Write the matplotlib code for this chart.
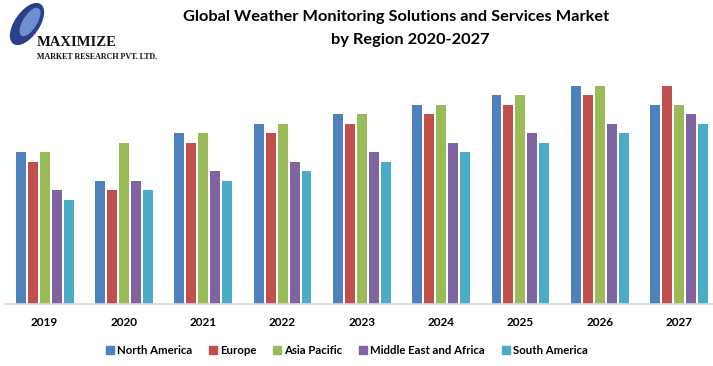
import matplotlib.pyplot as plt
import matplotlib.patches as mpatches
from matplotlib.lines import Line2D
import numpy as np

years = ["2019", "2020", "2021", "2022", "2023", "2024", "2025", "2026", "2027"]
regions = ["North America", "Europe", "Asia Pacific", "Middle East and Africa", "South America"]
north_america = [16, 13, 18, 19, 20, 21, 22, 23, 21]
europe = [15, 12, 17, 18, 19, 20, 21, 22, 23]
asia_pacific = [16, 17, 18, 19, 20, 21, 22, 23, 21]
mea = [12, 13, 14, 15, 16, 17, 18, 19, 20]
south_america = [11, 12, 13, 14, 15, 16, 17, 18, 19]
colors = ["#4F81BD", "#C0504D", "#9BBB59", "#8064A2", "#4BACC6"]

series = [north_america, europe, asia_pacific, mea, south_america]

W, H = 713, 366
fig = plt.figure(figsize=(W / 100, H / 100), dpi=100)

# axes: baseline at y=304px, one unit ~ 9.5px, one group ~ 79.3px
unit_x = 79.3
unit_y = 9.5
left = 5
bottom = H - 304
ax = fig.add_axes([left / W, bottom / H, 9 * unit_x / W, 25 * unit_y / H])

x = np.arange(len(years))
width = 0.126
step = 0.151
for i, vals in enumerate(series):
    ax.bar(x + (i - 2) * step, vals, width, color=colors[i], label=regions[i], zorder=2)

ax.set_xlim(-0.5, 8.5)
ax.set_ylim(0, 25)
ax.set_yticks([])
ax.set_xticks(x, years)
for s in ["top", "right", "left"]:
    ax.spines[s].set_visible(False)
ax.spines["bottom"].set_color("#D9D9D9")
ax.spines["bottom"].set_linewidth(1.2)
ax.tick_params(axis="x", length=0, pad=9)
for lbl in ax.get_xticklabels():
    lbl.set_fontfamily("Lato")
    lbl.set_fontweight("bold")
    lbl.set_fontsize(8.5)

# title
fig.text(396 / W, 1 - 17 / H, "Global Weather Monitoring Solutions and Services Market",
         ha="center", va="center", fontfamily="Lato", fontweight="bold", fontsize=11.8)
fig.text(410 / W, 1 - 40 / H, "by Region 2020-2027",
         ha="center", va="center", fontfamily="Lato", fontweight="bold", fontsize=11.8)

# legend
handles = [Line2D([0], [0], marker="s", linestyle="none", markersize=6,
                  markerfacecolor=c, markeredgecolor=c) for c in colors]
fig.legend(handles, regions, loc="center", bbox_to_anchor=(346 / W, 1 - 350 / H),
           ncol=5, frameon=False, handletextpad=0.1, columnspacing=1.35,
           handlelength=1.0, prop={"family": "Lato", "size": 8.2, "weight": "bold"})

# logo
globe = mpatches.Ellipse((27 / W, 1 - 24 / H), 26 / W, 42 / H, angle=-15,
                         color="#2B3F8C", zorder=1)
fig.add_artist(globe)
inner = mpatches.Ellipse((30 / W, 1 - 22 / H), 14 / W, 28 / H, angle=-15,
                         color="#6F8FD0", zorder=2)
fig.add_artist(inner)
fig.text(37 / W, 1 - 43 / H, "MAXIMIZE", ha="left", va="center",
         fontfamily="Liberation Serif", fontweight="bold", fontsize=10.5, color="#111111")
fig.text(37 / W, 1 - 57 / H, "MARKET RESEARCH PVT. LTD.", ha="left", va="center",
         fontfamily="Liberation Serif", fontweight="bold", fontsize=5.8, color="#111111")

fig.savefig("out.png", dpi=100)
